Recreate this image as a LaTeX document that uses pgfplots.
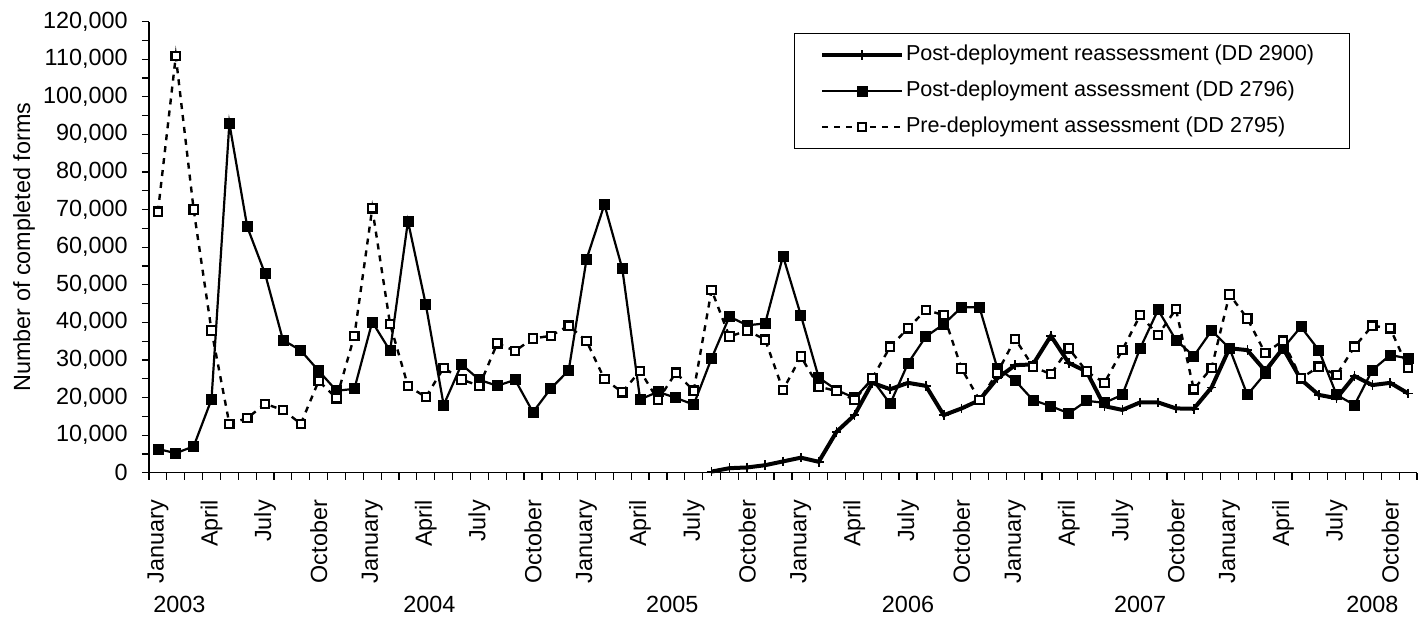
\documentclass[border=0pt]{standalone}
\usepackage{fontspec}
\setmainfont{Liberation Sans}
\usepackage{pgfplots}
\usepackage{pgfplotstable}
\pgfplotsset{compat=1.18}

\pgfplotstableread{
i pre post re
0 69400 6300 nan
1 110800 5200 nan
2 70000 7000 nan
3 37800 19500 nan
4 13000 92900 nan
5 14500 65400 nan
6 18300 52900 nan
7 16700 35300 nan
8 13000 32500 nan
9 24400 27100 nan
10 19800 21800 nan
11 36400 22300 nan
12 70300 40100 nan
13 39500 32400 nan
14 23100 66900 nan
15 20100 44700 nan
16 27900 18000 nan
17 24800 28800 nan
18 23100 24700 nan
19 34400 23100 nan
20 32400 24700 nan
21 35700 16100 nan
22 36400 22400 nan
23 39100 27200 nan
24 35000 56800 nan
25 24900 71300 nan
26 21400 54300 nan
27 27100 19500 nan
28 19300 21500 nan
29 26600 19900 nan
30 21800 18100 nan
31 48600 30400 300
32 36200 41500 1200
33 37800 39200 1400
34 35400 39700 2000
35 22000 57600 3000
36 30900 41900 4000
37 22900 25300 2900
38 21700 22000 10900
39 19300 19900 15300
40 25100 24800 23900
41 33500 18300 22200
42 38400 29100 23900
43 43300 36200 23100
44 41900 39500 15300
45 27700 44000 17100
46 19300 44000 19300
47 26600 27800 25100
48 35600 24500 28600
49 28200 19300 28800
50 26200 17700 36400
51 33100 15800 29200
52 26900 19100 26900
53 23900 18600 17700
54 32600 20700 16700
55 41900 33100 18700
56 36600 43300 18700
57 43500 35300 17100
58 22200 31000 17000
59 27900 37800 22700
60 47400 33100 33100
61 41000 20700 32600
62 31800 26400 27100
63 35100 33100 33100
64 25100 38800 24800
65 28200 32600 20700
66 26000 20700 19800
67 33500 18000 25700
68 39100 27300 23300
69 38400 31300 23900
70 27800 30400 21100
}\datatable

\newcommand{\chartfont}{\fontsize{11.7}{14}\selectfont}
\newcommand{\legfont}{\fontsize{10.8}{13}\selectfont}

\begin{document}
\begin{tikzpicture}
\begin{axis}[
  at={(0,0)}, anchor=south west,
  scale only axis, width=634pt, height=225.6pt,
  xmin=-0.5, xmax=70.5, ymin=0, ymax=120000,
  clip=false,
  axis x line*=bottom, axis y line*=left,
  axis line style={-, line width=0.6pt},
  tick align=outside,
  major tick length=3.5pt, minor tick length=3.5pt,
  every tick/.style={black, line width=0.6pt},
  xtick={0,3,...,69},
  xticklabels={January,April,July,October,January,April,July,October,January,April,July,October,January,April,July,October,January,April,July,October,January,April,July,October},
  minor xtick={-0.5,0.5,...,70.5},
  major x tick style={draw=none},
  ytick={0,10000,...,120000},
  minor y tick num=1,
  scaled y ticks=false,
  /pgf/number format/assume math mode=true,
  yticklabel style={/pgf/number format/fixed, /pgf/number format/1000 sep={,}, anchor=east, inner sep=0pt, xshift=-7pt},
  xticklabel style={yshift=-10pt, rotate=90, anchor=east, inner sep=0pt},
  tick label style={font=\chartfont},
  ylabel={Number of completed forms},
  every axis y label/.style={at={(axis description cs:-0.0986,0.5)}, rotate=90, anchor=center, font=\chartfont},
  legend style={at={(rel axis cs:0.5087,0.9745)}, anchor=north west, draw=black, line width=0.5pt,
    inner xsep=12.75pt, inner ysep=4.5pt, row sep=5.5pt, font=\legfont,
    nodes={inner sep=1pt, text height=8pt, text depth=2.5pt}, cells={anchor=west}},
  legend image code/.code={\draw[mark repeat=2,mark phase=2,#1] plot coordinates {(0pt,0pt) (20pt,0pt) (40pt,0pt)};},
]
\addplot[draw=black, line width=2pt, mark=+, mark size=2.4pt, mark options={line width=0.8pt, solid}]
  table[x=i, y=re] {\datatable};
\addlegendentry{Post-deployment reassessment (DD 2900)\hspace*{4pt}}
\addplot[draw=black, line width=1.1pt, mark=square*, mark size=2.5pt, mark options={fill=black, line width=0.4pt, solid}]
  table[x=i, y=post] {\datatable};
\addlegendentry{Post-deployment assessment (DD 2796)}
\addplot[draw=black, line width=1.2pt, dash pattern=on 3pt off 3pt, mark=square*, mark size=2.1pt, mark options={solid, fill=white, line width=1.1pt}]
  table[x=i, y=pre] {\datatable};
\addlegendentry{Pre-deployment assessment (DD 2795)}

\node[anchor=base, font=\chartfont, yshift=-70pt] at (axis cs:1.2,0) {2003};
\node[anchor=base, font=\chartfont, yshift=-70pt] at (axis cs:15.2,0) {2004};
\node[anchor=base, font=\chartfont, yshift=-70pt] at (axis cs:28.8,0) {2005};
\node[anchor=base, font=\chartfont, yshift=-70pt] at (axis cs:42.0,0) {2006};
\node[anchor=base, font=\chartfont, yshift=-70pt] at (axis cs:55.0,0) {2007};
\node[anchor=base, font=\chartfont, yshift=-70pt] at (axis cs:68.0,0) {2008};
\end{axis}
\pgfresetboundingbox
\useasboundingbox (-74.5pt,-71.65pt) rectangle (639pt,236.35pt);
\end{tikzpicture}
\end{document}
